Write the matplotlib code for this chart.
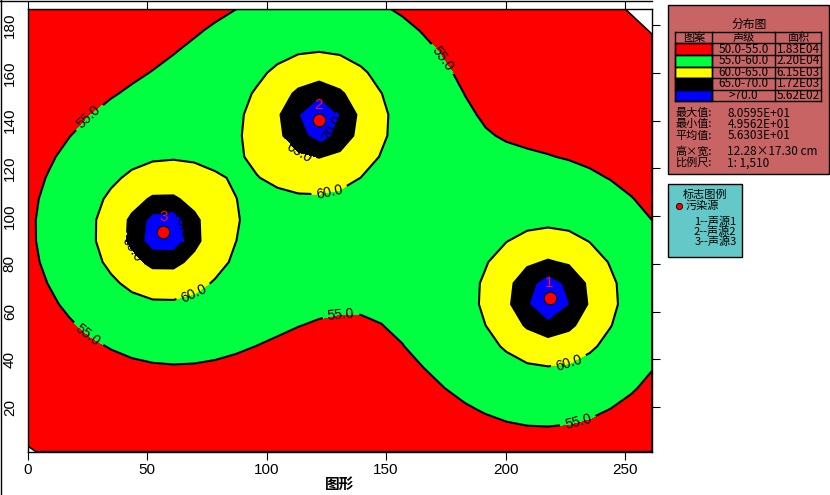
import numpy as np
import matplotlib
matplotlib.use('Agg')
import matplotlib.pyplot as plt
from matplotlib.patches import Rectangle, Polygon
from matplotlib.lines import Line2D

plt.rcParams['font.family'] = ['Liberation Sans Narrow', 'Liberation Sans', 'Noto Sans CJK SC', 'DejaVu Sans']

# noise sources (position in plot units, source level)
src_x = [218.4, 121.7, 56.7]
src_y = [65.8, 140.2, 93.4]
src_names = ['1', '2', '3']
src_level = [88.85, 88.6, 88.6]

x_range = [0.0, 261.3]
y_range = [1.4, 186.6]
# corners of the computed area (two corners are cut off)
hull_x = [3.4, 261.3, 261.3, 250.2, 0.0, 0.0]
hull_y = [1.4, 1.4, 176.2, 186.6, 186.6, 3.8]

levels = [40.0, 55.0, 60.0, 65.0, 70.0, 90.0]
line_levels = [55.0, 60.0, 65.0, 70.0]
level_colors = ['#FF0000', '#00FF40', '#FFFF00', '#000000', '#0000FF']

table_header = ['图案', '声级', '面积']
table_levels = ['50.0-55.0', '55.0-60.0', '60.0-65.0', '65.0-70.0', '>70.0']
table_areas = ['1.83E04', '2.20E04', '6.15E03', '1.72E03', '5.62E02']
stats_names = ['最大值:', '最小值:', '平均值:', '高×宽:', '比例尺:']
stats_values = ['8.0595E+01', '4.9562E+01', '5.6303E+01', '12.28×17.30 cm', '1: 1,510']
legend_items = ['1--声源1', '2--声源2', '3--声源3']

# label spots on the contour lines
label_pos = [(172.8, 165.3), (26.9, 140.3), (24.0, 49.0), (131.0, 55.7), (230.5, 13.4),
             (126.6, 108.8), (70.0, 66.6), (227.2, 37.3),
             (43.3, 85.8), (113.2, 126.5),
             (61.7, 96.3), (124.6, 138.0)]

W, H = 830, 495
PT = 72 / 100   # points per pixel


def fx(px):
    return px / W


def fy(py):
    return 1 - py / H


# sound level field on a coarse grid
gx = np.linspace(x_range[0], x_range[1], 31)
gy = np.linspace(y_range[0], y_range[1], 22)
X, Y = np.meshgrid(gx, gy)
energy = np.zeros_like(X)
for sx, sy, lw in zip(src_x, src_y, src_level):
    r = np.maximum(np.hypot(X - sx, Y - sy), 2.5)
    energy += 10 ** ((lw - 20 * np.log10(r)) / 10)
Z = 10 * np.log10(energy)

fig = plt.figure(figsize=(W / 100, H / 100), dpi=100)
ax = fig.add_axes([fx(27.8), fy(451.7), fx(652 - 27.8), (451.7 - 9.3) / H])

cf = ax.contourf(X, Y, Z, levels=levels, colors=level_colors)
cs = ax.contour(X, Y, Z, levels=line_levels, colors='black', linewidths=1.5)
clip = Polygon(list(zip(hull_x, hull_y)), closed=True, transform=ax.transData)
cf.set_clip_path(clip)
cs.set_clip_path(clip)
ax.clabel(cs, fmt='%.1f', manual=label_pos, fontsize=10, colors='black', inline=True)
ax.add_patch(Polygon(list(zip(hull_x, hull_y)), closed=True, fill=False,
                     edgecolor='black', lw=1.2))

ax.plot(src_x, src_y, 'o', ms=9, mfc='#FF0000', mec='black', mew=0.8, zorder=5)
for sx, sy, nm in zip(src_x, src_y, src_names):
    ax.text(sx, sy + 3.5, nm, color='#F01030', fontsize=11, ha='center', va='bottom', zorder=6)

ax.set_xlim(x_range)
ax.set_ylim(y_range)
ax.set_xticks([0, 50, 100, 150, 200, 250])
ax.set_yticks([20, 40, 60, 80, 100, 120, 140, 160, 180])
ax.set_yticklabels(['20', '40', '60', '80', '100', '120', '140', '160', '180'],
                   rotation=90, va='center')
ax.tick_params(axis='x', direction='out', length=8 * PT, top=True, bottom=True,
               labelsize=11, pad=3 * PT)
ax.tick_params(axis='y', direction='out', length=8 * PT, left=False, right=True,
               labelsize=11, pad=3 * PT)
ax.set_xlabel('图形', fontsize=10.5, fontweight='bold', labelpad=1)
for sp in ax.spines.values():
    sp.set_linewidth(1.0)

# outer frame lines
fig.add_artist(Line2D([fx(1), fx(1)], [0, 1], color='black', lw=1.0))
fig.add_artist(Line2D([0, fx(652)], [fy(1), fy(1)], color='black', lw=1.0))

cjk = ['Noto Sans CJK SC', 'DejaVu Sans']
fs = 8.5
renderer = fig.canvas.get_renderer()


def stack_text(x, yc, lines, pitch, **kw):
    # several lines in one text, line pitch given in pixels
    one = fig.text(0, 0, lines[0], **kw)
    hs = one.get_window_extent(renderer).height
    one.remove()
    t = fig.text(fx(x), fy(yc), '\n'.join(lines), va='center', **kw)
    n = len(lines)
    t.set_linespacing(1.0)
    h1 = t.get_window_extent(renderer).height
    t.set_linespacing(2.0)
    h2 = t.get_window_extent(renderer).height
    k = (h2 - h1) / (n - 1)
    c = (h1 - hs) / (n - 1) - k
    t.set_linespacing((pitch - c) / k)
    return t


# distribution panel
fig.add_artist(Rectangle((fx(668), fy(174)), fx(161), 169 / H, facecolor='#C86464',
                         edgecolor='black', lw=1.0))
fig.text(fx(749), fy(24), '分布图', ha='center', va='center', fontsize=fs, family=cjk)
col_x = [675.3, 712.3, 774.7, 821.3]
row_y = [32.3, 43.3, 54.9, 66.5, 78.1, 89.7, 101.0]
for j, h in enumerate(table_header):
    fig.text(fx((col_x[j] + col_x[j + 1]) / 2), fy((row_y[0] + row_y[1]) / 2), h,
             ha='center', va='center', fontsize=8, family=cjk)
for i in range(len(table_levels)):
    y0, y1 = row_y[i + 1], row_y[i + 2]
    fig.add_artist(Rectangle((fx(col_x[0]), fy(y1)), fx(col_x[1] - col_x[0]), (y1 - y0) / H,
                             facecolor=level_colors[i], edgecolor='black', lw=1.0))
    fig.text(fx((col_x[1] + col_x[2]) / 2), fy((y0 + y1) / 2), table_levels[i],
             ha='center', va='center', fontsize=fs, family=cjk)
    fig.text(fx((col_x[2] + col_x[3]) / 2), fy((y0 + y1) / 2), table_areas[i],
             ha='center', va='center', fontsize=fs, family=cjk)
for yy in row_y:
    fig.add_artist(Line2D([fx(col_x[0]), fx(col_x[-1])], [fy(yy), fy(yy)], color='black', lw=1.0))
for xx in col_x:
    fig.add_artist(Line2D([fx(xx), fx(xx)], [fy(row_y[0]), fy(row_y[-1])], color='black', lw=1.0))

# statistics, written as two blocks of lines
stack_text(675.3, 124.4, stats_names[:3], 11.1, ha='left', fontsize=8, family=cjk)
stack_text(727.3, 124.4, stats_values[:3], 11.1, ha='left', fontsize=fs, family=cjk)
stack_text(675.3, 157.1, stats_names[3:], 11.2, ha='left', fontsize=8, family=cjk)
stack_text(727.3, 157.1, stats_values[3:], 11.2, ha='left', fontsize=fs, family=cjk)

# symbol legend panel
fig.add_artist(Rectangle((fx(668), fy(257)), fx(74), 73 / H, facecolor='#64C8C8',
                         edgecolor='black', lw=1.0))
fig.text(fx(705), fy(195), '标志图例', ha='center', va='center', fontsize=8, family=cjk)
fig.add_artist(Line2D([fx(679)], [fy(206)], marker='o', ms=4.5, mfc='#FF0000',
                      mec='black', mew=0.6))
fig.text(fx(686), fy(206), '污染源', ha='left', va='center', fontsize=8, family=cjk)
stack_text(736.5, 231.9, legend_items, 10.0, ha='right', multialignment='right',
           fontsize=8, family=cjk)

fig.savefig('out.png', dpi=100)
